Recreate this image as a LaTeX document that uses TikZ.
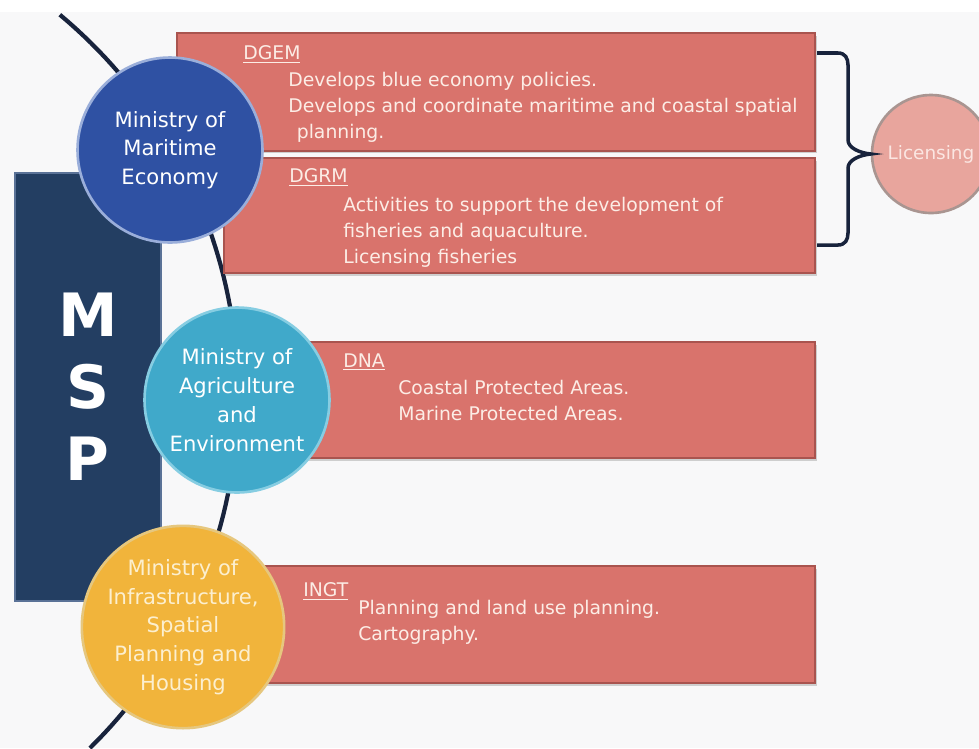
\documentclass[tikz,border=0pt]{standalone}
\usepackage{fontspec}
\setmainfont{DejaVu Sans}
\usetikzlibrary{shadows}

\definecolor{paper}{HTML}{F8F8F9}
\definecolor{navy}{HTML}{233E62}
\definecolor{navyedge}{HTML}{5A7297}
\definecolor{arcline}{HTML}{18233C}
\definecolor{officefill}{HTML}{D9736C}
\definecolor{officeedge}{HTML}{A9544F}
\definecolor{officetext}{HTML}{FCEDE6}
\definecolor{maritime}{HTML}{2F51A3}
\definecolor{maritimeedge}{HTML}{9AAEDA}
\definecolor{agri}{HTML}{40A9CA}
\definecolor{agriedge}{HTML}{86CDE2}
\definecolor{infra}{HTML}{F1B43B}
\definecolor{infraedge}{HTML}{E6C77E}
\definecolor{infratext}{HTML}{FCEFCF}
\definecolor{licfill}{HTML}{E8A59D}
\definecolor{licedge}{HTML}{A99591}
\definecolor{lictext}{HTML}{FBE6E2}

\begin{document}
\begin{tikzpicture}[x=0.02cm,y=-0.02cm]
  \tikzstyle{office}=[draw=officeedge,fill=officefill,line width=1pt,anchor=north east,
    inner sep=0pt,drop shadow={shadow xshift=1pt,shadow yshift=-1.5pt,opacity=0.35}]
  \tikzstyle{ministry}=[circle,line width=1.5pt,minimum size=3.7cm,inner sep=0pt,
    align=center,text=white,font=\fontsize{12}{16.4}\selectfont]
  \tikzstyle{duty}=[anchor=north west,inner sep=0pt,align=left,text=officetext,
    font=\fontsize{10.7}{14.7}\selectfont]

  \useasboundingbox (0,0) rectangle (979,748);
  \fill[paper] (0,0) rectangle (979,748);
  \fill[white] (0,0) rectangle (979,12);

  % sweeping arc behind the ministries
  \draw[arcline,line width=2.4pt,domain=-45.5:50.2,samples=80]
    plot ({-257+495*cos(\x)},{395-495*sin(\x)});

  \node[fill=navy,draw=navyedge,line width=1pt,anchor=north west,
    minimum width=2.92cm,minimum height=8.56cm] (msp) at (14,172) {};
  \node[text=white,font=\fontsize{34}{41}\selectfont\bfseries,align=center]
    (msptext) at (msp.center) {M\\S\\P};

  % directorates
  \node[office,minimum width=12.76cm,minimum height=2.36cm] (dgem) at (816,32) {};
  \node[office,minimum width=11.82cm,minimum height=2.30cm] (dgrm) at (816,157) {};
  \node[office,minimum width=10.32cm,minimum height=2.32cm] (dna) at (816,341) {};
  \node[office,minimum width=11.22cm,minimum height=2.34cm] (ingt) at (816,565) {};

  % licensing and its brace
  \node[circle,fill=licfill,draw=licedge,line width=1.5pt,minimum size=2.36cm,
    inner sep=0pt,text=lictext,font=\fontsize{10.5}{12}\selectfont] (lic) at (931,154) {Licensing};
  \coordinate (bracetop) at (817,53);
  \coordinate (bracebot) at (817,245);
  \draw[arcline,line width=2pt] (bracetop) -- (838,53) .. controls (845,53) and (848,58) .. (848,65)
    -- (848,140) .. controls (848,148) and (860,153) .. (lic.west)
    .. controls (860,155) and (848,160) .. (848,168) -- (848,233)
    .. controls (848,240) and (845,245) .. (838,245) -- (bracebot);

  % ministries
  \node[ministry,fill=maritime,draw=maritimeedge] (maritime) at (170,150)
    {Ministry of\\Maritime\\Economy};
  \node[ministry,fill=agri,draw=agriedge] (agri) at (237,400)
    {Ministry of\\Agriculture\\and\\Environment};
  \node[ministry,fill=infra,draw=infraedge,text=infratext] (infra) at (183,627)
    {Ministry of\\Infrastructure,\\Spatial\\Planning and\\Housing};

  % what each directorate does
  \node[duty] (dgemhead) at (243,45) {\underline{DGEM}};
  \node[duty] (dgemtext) at (288,72) {Develops blue economy policies.\\
    Develops and coordinate maritime and coastal spatial\\\hspace*{0.45em}planning.};
  \node[duty] (dgrmhead) at (289,168) {\underline{DGRM}};
  \node[duty] (dgrmtext) at (343,197) {Activities to support the development of\\
    fisheries and aquaculture.\\Licensing fisheries};
  \node[duty] (dnahead) at (343,353) {\underline{DNA}};
  \node[duty] (dnatext) at (398,380) {Coastal Protected Areas.\\Marine Protected Areas.};
  \node[duty] (ingthead) at (303,582) {\underline{INGT}};
  \node[duty] (ingttext) at (358,600) {Planning and land use planning.\\Cartography.};
\end{tikzpicture}
\end{document}
